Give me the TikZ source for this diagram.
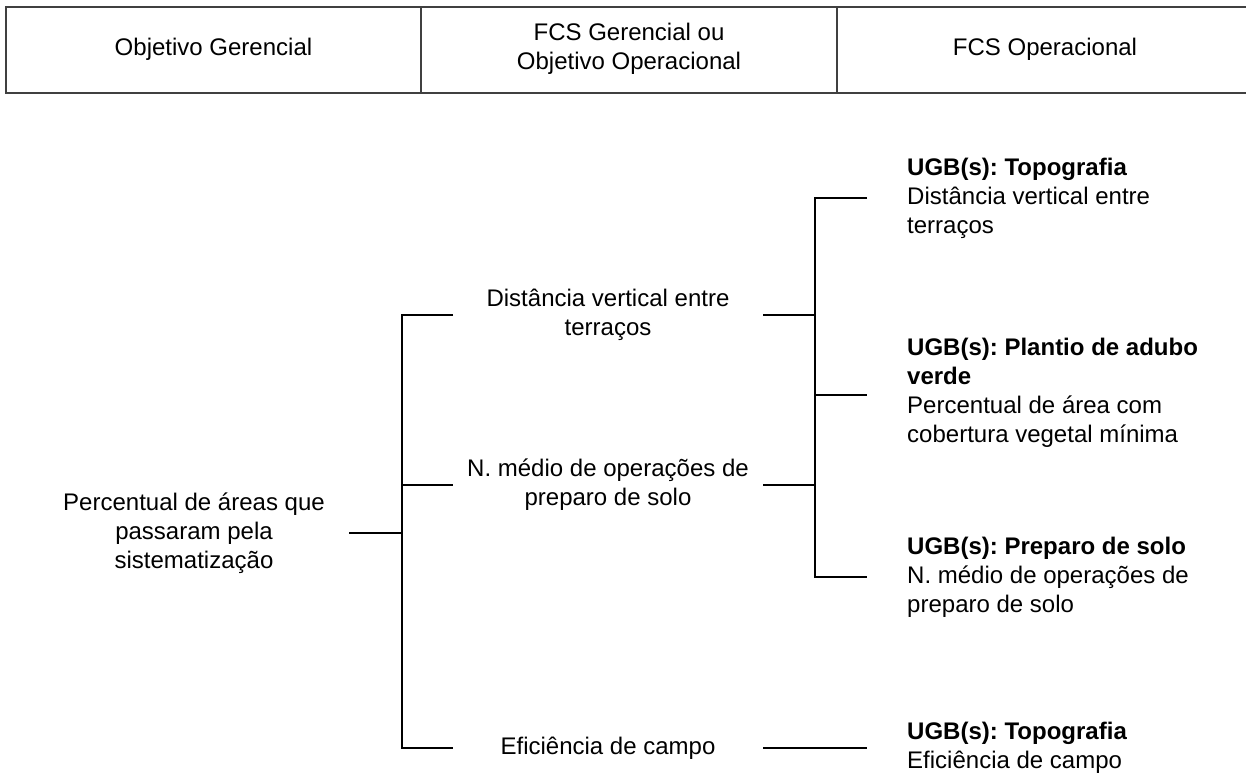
\documentclass[tikz,border=0pt]{standalone}
\usepackage{fontspec}
\setmainfont{Liberation Sans}
\frenchspacing
\begin{document}
\begin{tikzpicture}[x=1bp,y=-1bp,
  every node/.style={font=\fontsize{24.1pt}{29pt}\selectfont\frenchspacing, inner sep=0pt},
  ctext/.style={align=center},
  ltext/.style={align=left, anchor=west},
  conn/.style={line width=1.1bp, black},
  hline/.style={line width=1.3bp, black!75}]
\useasboundingbox (0,0) rectangle (1246,774);
% header
\draw[hline] (1246,7) -- (6,7) -- (6,93) -- (1246,93);
\draw[hline] (421,7) -- (421,93);
\draw[hline] (837,7) -- (837,93);
\node[ctext] (h1) at (213.5,49) {Objetivo Gerencial};
\node[ctext] (h2) at (629,49) {FCS Gerencial ou\\Objetivo Operacional};
\node[ctext] (h3) at (1045,49) {FCS Operacional};
% nodes
\node[ctext] (r) at (194,533) {Percentual de áreas que\\passaram pela\\sistematização};
\node[ctext] (m1) at (608,315) {Distância vertical entre\\terraços};
\node[ctext] (m2) at (608,485) {N. médio de operações de\\preparo de solo};
\node[ctext] (m3) at (608,748) {Eficiência de campo};
\node[ltext] (u1) at (907,198) {\textbf{UGB(s): Topografia}\\Distância vertical entre\\terraços};
\node[ltext] (u2) at (907,393) {\textbf{UGB(s): Plantio de adubo}\\\textbf{verde}\\Percentual de área com\\cobertura vegetal mínima};
\node[ltext] (u3) at (907,577) {\textbf{UGB(s): Preparo de solo}\\N. médio de operações de\\preparo de solo};
\node[ltext] (u4) at (907,748) {\textbf{UGB(s): Topografia}\\Eficiência de campo};
% junction coordinates
\coordinate (r0) at (349,533);
\coordinate (jl) at (402,533);
\coordinate (lt) at (402,315);
\coordinate (lm) at (402,485);
\coordinate (lb) at (402,748);
\coordinate (m1l) at (453,315);
\coordinate (m2l) at (453,485);
\coordinate (m3l) at (453,748);
\coordinate (m1r) at (763,315);
\coordinate (m2r) at (763,485);
\coordinate (m3r) at (763,748);
\coordinate (rt) at (815,198);
\coordinate (rm) at (815,395);
\coordinate (rb) at (815,577);
\coordinate (u1l) at (867,198);
\coordinate (u2l) at (867,395);
\coordinate (u3l) at (867,577);
\coordinate (u4l) at (867,748);
% connectors
\draw[conn] (r0) -- (jl);
\draw[conn] (m1l) -- (lt) -- (lb) -- (m3l);
\draw[conn] (lm) -- (m2l);
\draw[conn] (u1l) -- (rt) -- (rb) -- (u3l);
\draw[conn] (rm) -- (u2l);
\draw[conn] (m1r) -- (815,315);
\draw[conn] (m2r) -- (815,485);
\draw[conn] (m3r) -- (u4l);
\end{tikzpicture}
\end{document}
